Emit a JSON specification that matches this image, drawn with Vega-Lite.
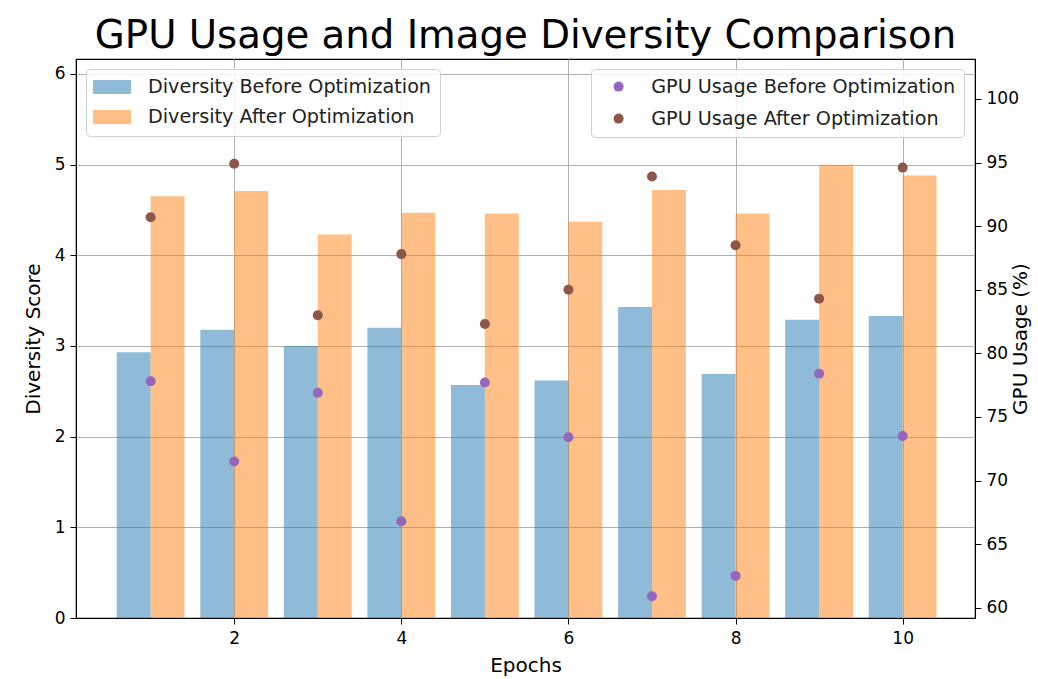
{
  "$schema": "https://vega.github.io/schema/vega-lite/v6.json",
  "width": 899,
  "height": 559,
  "autosize": {"type": "none"},
  "padding": {"left": 76, "top": 59, "right": 63, "bottom": 61},
  "background": "white",
  "title": {"text": "GPU Usage and Image Diversity Comparison", "fontSize": 38.7, "font": "DejaVu Sans", "fontWeight": "normal", "color": "#000", "anchor": "middle", "offset": 3},
  "config": {
    "font": "DejaVu Sans",
    "view": {"stroke": "#000", "strokeWidth": 1.2},
    "axis": {"labelFont": "DejaVu Sans", "titleFont": "DejaVu Sans", "labelFontSize": 17, "titleFontSize": 20, "titleFontWeight": "normal", "labelColor": "#000", "titleColor": "#000", "tickColor": "#000", "domainColor": "#000", "tickSize": 6, "labelPadding": 5, "gridColor": "#b0b0b0", "gridWidth": 1, "format": "d"},
    "legend": {"labelFont": "DejaVu Sans", "labelFontSize": 19.2, "labelColor": "#222", "labelLimit": 500, "fillColor": "rgba(255,255,255,0.85)", "strokeColor": "#d0d0d0", "cornerRadius": 4, "padding": 8, "title": null}
  },
  "data": {"values": [
    {"epoch": 1, "metric": "Diversity Before Optimization", "value": 2.93},
    {"epoch": 2, "metric": "Diversity Before Optimization", "value": 3.18},
    {"epoch": 3, "metric": "Diversity Before Optimization", "value": 3.0},
    {"epoch": 4, "metric": "Diversity Before Optimization", "value": 3.2},
    {"epoch": 5, "metric": "Diversity Before Optimization", "value": 2.57},
    {"epoch": 6, "metric": "Diversity Before Optimization", "value": 2.62},
    {"epoch": 7, "metric": "Diversity Before Optimization", "value": 3.43},
    {"epoch": 8, "metric": "Diversity Before Optimization", "value": 2.69},
    {"epoch": 9, "metric": "Diversity Before Optimization", "value": 3.29},
    {"epoch": 10, "metric": "Diversity Before Optimization", "value": 3.33},
    {"epoch": 1, "metric": "Diversity After Optimization", "value": 4.65},
    {"epoch": 2, "metric": "Diversity After Optimization", "value": 4.71},
    {"epoch": 3, "metric": "Diversity After Optimization", "value": 4.23},
    {"epoch": 4, "metric": "Diversity After Optimization", "value": 4.47},
    {"epoch": 5, "metric": "Diversity After Optimization", "value": 4.46},
    {"epoch": 6, "metric": "Diversity After Optimization", "value": 4.37},
    {"epoch": 7, "metric": "Diversity After Optimization", "value": 4.72},
    {"epoch": 8, "metric": "Diversity After Optimization", "value": 4.46},
    {"epoch": 9, "metric": "Diversity After Optimization", "value": 5.0},
    {"epoch": 10, "metric": "Diversity After Optimization", "value": 4.88},
    {"epoch": 1, "metric": "GPU Usage Before Optimization", "value": 77.8},
    {"epoch": 2, "metric": "GPU Usage Before Optimization", "value": 71.5},
    {"epoch": 3, "metric": "GPU Usage Before Optimization", "value": 76.9},
    {"epoch": 4, "metric": "GPU Usage Before Optimization", "value": 66.8},
    {"epoch": 5, "metric": "GPU Usage Before Optimization", "value": 77.7},
    {"epoch": 6, "metric": "GPU Usage Before Optimization", "value": 73.4},
    {"epoch": 7, "metric": "GPU Usage Before Optimization", "value": 60.9},
    {"epoch": 8, "metric": "GPU Usage Before Optimization", "value": 62.5},
    {"epoch": 9, "metric": "GPU Usage Before Optimization", "value": 78.4},
    {"epoch": 10, "metric": "GPU Usage Before Optimization", "value": 73.5},
    {"epoch": 1, "metric": "GPU Usage After Optimization", "value": 90.7},
    {"epoch": 2, "metric": "GPU Usage After Optimization", "value": 94.9},
    {"epoch": 3, "metric": "GPU Usage After Optimization", "value": 83.0},
    {"epoch": 4, "metric": "GPU Usage After Optimization", "value": 87.8},
    {"epoch": 5, "metric": "GPU Usage After Optimization", "value": 82.3},
    {"epoch": 6, "metric": "GPU Usage After Optimization", "value": 85.0},
    {"epoch": 7, "metric": "GPU Usage After Optimization", "value": 93.9},
    {"epoch": 8, "metric": "GPU Usage After Optimization", "value": 88.5},
    {"epoch": 9, "metric": "GPU Usage After Optimization", "value": 84.3},
    {"epoch": 10, "metric": "GPU Usage After Optimization", "value": 94.6}
  ]},
  "layer": [
    {
      "layer": [
        {
          "transform": [{"filter": "datum.metric === 'Diversity Before Optimization'"}],
          "mark": {"type": "bar", "width": 33.9, "xOffset": -16.95, "opacity": 0.5},
          "encoding": {
            "x": {"field": "epoch", "type": "quantitative", "scale": {"domain": [0.1665, 10.806], "nice": false, "zero": false}, "axis": {"title": "Epochs", "values": [2, 4, 6, 8, 10], "grid": true, "titlePadding": 9, "labelPadding": 6}},
            "y": {"field": "value", "type": "quantitative", "scale": {"domain": [0, 6.165], "nice": false}, "axis": {"title": "Diversity Score", "values": [0, 1, 2, 3, 4, 5, 6], "grid": true, "titlePadding": 11}},
            "color": {"field": "metric", "type": "nominal", "scale": {"domain": ["Diversity Before Optimization", "Diversity After Optimization"], "range": ["#1f77b4", "#ff7f0e"]}, "legend": {"orient": "none", "legendX": 10, "legendY": 10, "symbolType": "M-1.9,-0.7H1.9V0.7H-1.9Z", "symbolSize": 400, "symbolOffset": 8, "symbolOpacity": 0.5, "symbolStrokeWidth": 0, "rowPadding": 9, "labelOffset": 26}}
          }
        },
        {
          "transform": [{"filter": "datum.metric === 'Diversity After Optimization'"}],
          "mark": {"type": "bar", "width": 33.9, "xOffset": 16.95, "opacity": 0.5},
          "encoding": {
            "x": {"field": "epoch", "type": "quantitative"},
            "y": {"field": "value", "type": "quantitative"},
            "color": {"field": "metric", "type": "nominal"}
          }
        }
      ]
    },
    {
      "transform": [{"filter": "indexof(datum.metric, 'GPU') === 0"}],
      "mark": {"type": "point", "filled": true, "opacity": 1, "size": 100},
      "encoding": {
        "x": {"field": "epoch", "type": "quantitative"},
        "y": {"field": "value", "type": "quantitative", "scale": {"domain": [59.19, 103.14], "nice": false, "zero": false}, "axis": {"title": "GPU Usage (%)", "orient": "right", "values": [60, 65, 70, 75, 80, 85, 90, 95, 100], "grid": false, "titlePadding": 12, "titleAngle": 270}},
        "color": {"field": "metric", "type": "nominal", "scale": {"domain": ["GPU Usage Before Optimization", "GPU Usage After Optimization"], "range": ["#9467bd", "#8c564b"]}, "legend": {"orient": "none", "legendX": 515, "legendY": 10, "symbolType": "circle", "symbolSize": 100, "symbolOffset": 10, "rowPadding": 12, "labelOffset": 23, "padding": 8}}
      }
    }
  ],
  "resolve": {"scale": {"y": "independent", "color": "independent"}}
}
